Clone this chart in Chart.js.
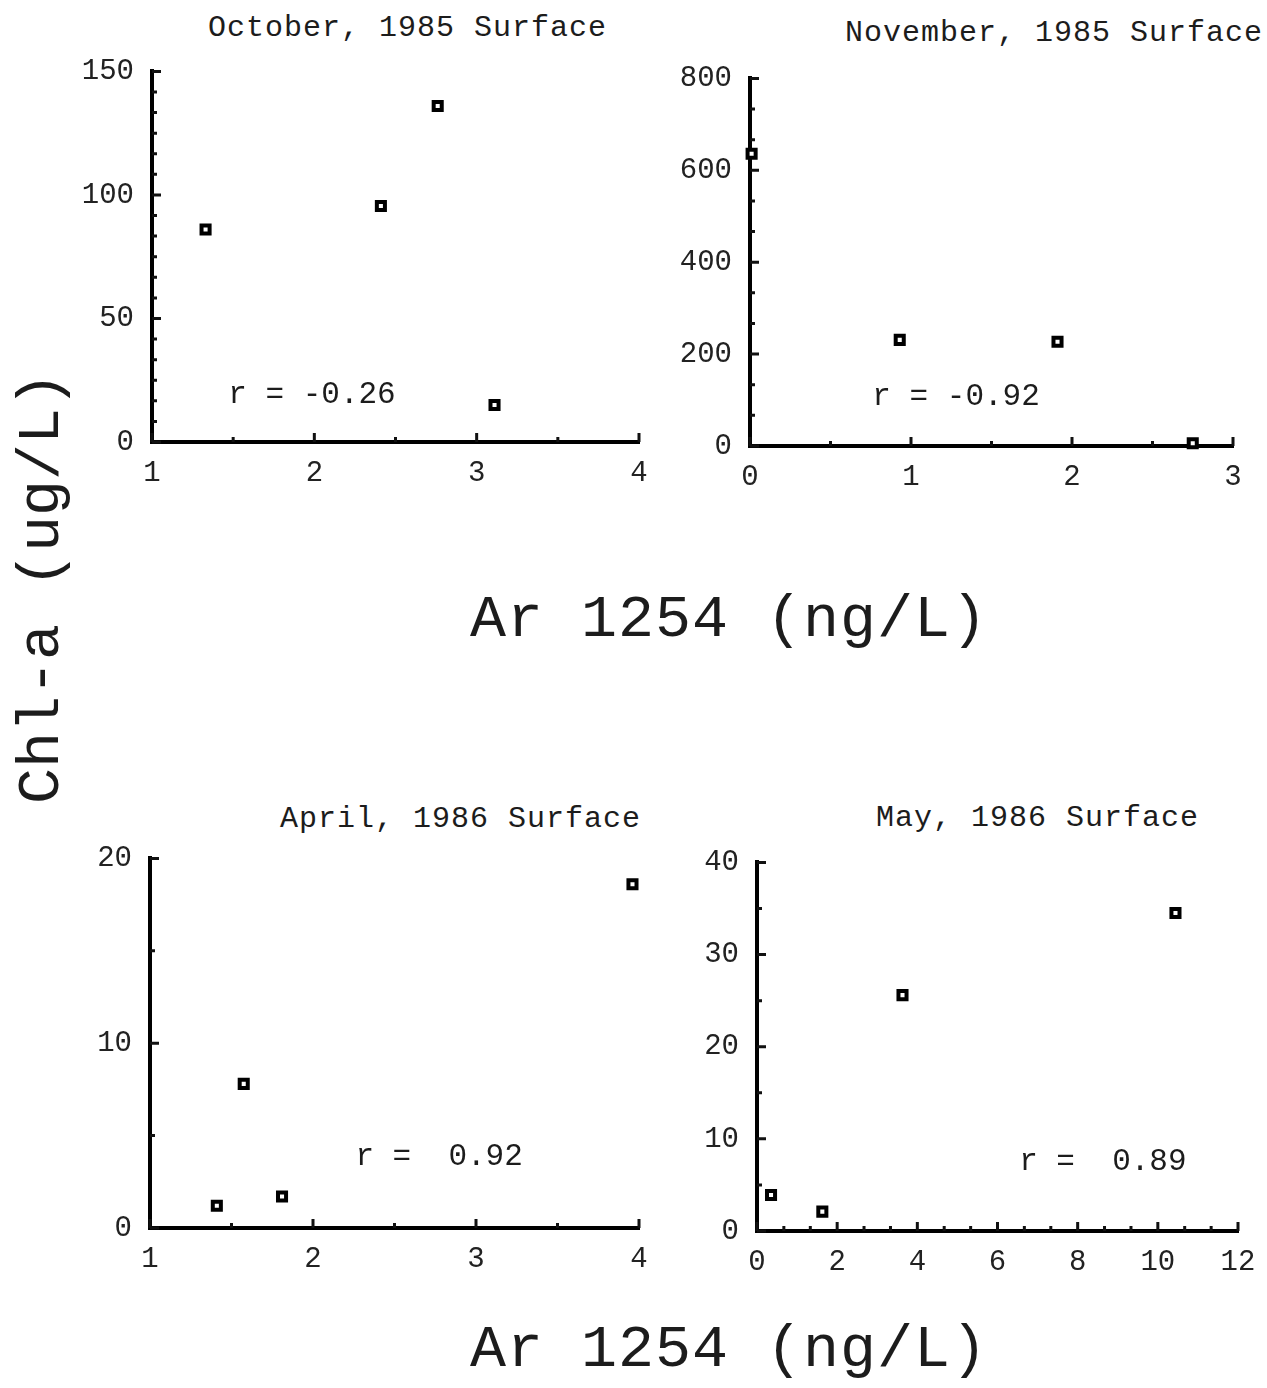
<!DOCTYPE html>
<html lang="en">
<head>
<meta charset="UTF-8">
<title>Chl-a vs Ar 1254</title>
<script src="https://cdn.jsdelivr.net/npm/chart.js"></script>
<style>
  body { margin:0; background:#fff; width:1267px; height:1388px; position:relative; overflow:hidden;
         font-family:'Liberation Mono', monospace; color:#1c1c1c; }
  .panel { position:absolute; }
  .title { position:absolute; font-size:30px; line-height:30px; letter-spacing:1px; white-space:pre; }
  .big { position:absolute; font-size:60px; line-height:60px; letter-spacing:1px; white-space:pre; }
</style>
</head>
<body>
<div class="title" style="left:208px;top:13px">October, 1985 Surface</div>
<div class="title" style="left:845px;top:18px">November, 1985 Surface</div>
<div class="title" style="left:280px;top:804px">April, 1986 Surface</div>
<div class="title" style="left:876px;top:803px">May, 1986 Surface</div>

<div class="big" style="left:470px;top:590px">Ar 1254 (ng/L)</div>
<div class="big" style="left:470px;top:1320px">Ar 1254 (ng/L)</div>
<div class="big" style="left:-188px;top:558px;width:460px;text-align:center;letter-spacing:0;transform:rotate(-90deg)">Chl-a (ug/L)</div>

<div class="panel" id="wrapOct"><canvas id="octChart"></canvas></div>
<div class="panel" id="wrapNov"><canvas id="novChart"></canvas></div>
<div class="panel" id="wrapApr"><canvas id="aprChart"></canvas></div>
<div class="panel" id="wrapMay"><canvas id="mayChart"></canvas></div>

<script>
// --- data ---
const octX = [1.33, 2.41, 2.76, 3.11];
const octY = [86, 95.5, 136, 15];
const novX = [0.01, 0.93, 1.91, 2.75];
const novY = [636, 231, 227, 6];
const aprX = [1.41, 1.575, 1.81, 3.96];
const aprY = [1.2, 7.8, 1.7, 18.6];
const mayX = [0.35, 1.63, 3.63, 10.44];
const mayY = [3.9, 2.1, 25.6, 34.5];

// tick labels (major) and small unlabeled ticks (minor)
const octXTicks = [1, 2, 3, 4];
const octXMinor = [1.5, 2.5, 3.5];
const octYTicks = [0, 50, 100, 150];
const octYMinor = [8.33, 16.67, 25, 33.33, 41.67, 58.33, 66.67, 75, 83.33, 91.67, 108.33, 116.67, 125, 133.33, 141.67];
const novXTicks = [0, 1, 2, 3];
const novXMinor = [0.5, 1.5, 2.5];
const novYTicks = [0, 200, 400, 600, 800];
const novYMinor = [66.7, 133.3, 266.7, 333.3, 466.7, 533.3, 666.7, 733.3];
const aprXTicks = [1, 2, 3, 4];
const aprXMinor = [1.5, 2.5, 3.5];
const aprYTicks = [0, 10, 20];
const aprYMinor = [5, 15];
const mayXTicks = [0, 2, 4, 6, 8, 10, 12];
const mayXMinor = [0.67, 1.33, 2.67, 3.33, 4.67, 5.33, 6.67, 7.33, 8.67, 9.33, 10.67, 11.33];
const mayYTicks = [0, 10, 20, 30, 40];
const mayYMinor = [5, 15, 25, 35];

const octR = 'r = -0.26';
const novR = 'r = -0.92';
const aprR = 'r =  0.92';
const mayR = 'r =  0.89';

Chart.defaults.font.family = "'Liberation Mono', monospace";
Chart.defaults.font.size = 29;
Chart.defaults.color = '#222';

const PAD_L = 100, PAD_T = 22, PAD_R = 34, PAD_B = 60;
const TOP_EXTRA = 12; // chart.js adds this much above the plot area

// ticks drawn inside the axes, plus the r annotation
const innerTicks = {
    id: 'innerTicks',
    afterDraw(chart, args, opts) {
        const ctx = chart.ctx;
        const xs = chart.scales.x, ys = chart.scales.y;
        const area = chart.chartArea;
        ctx.save();
        ctx.strokeStyle = '#111';
        ctx.lineWidth = 3;
        ctx.beginPath();
        opts.yMajor.forEach(v => { const p = ys.getPixelForValue(v); ctx.moveTo(area.left, p); ctx.lineTo(area.left + 9, p); });
        opts.yMinor.forEach(v => { const p = ys.getPixelForValue(v); ctx.moveTo(area.left, p); ctx.lineTo(area.left + 5, p); });
        opts.xMajor.forEach(v => { const p = xs.getPixelForValue(v); ctx.moveTo(p, area.bottom); ctx.lineTo(p, area.bottom - 9); });
        opts.xMinor.forEach(v => { const p = xs.getPixelForValue(v); ctx.moveTo(p, area.bottom); ctx.lineTo(p, area.bottom - 5); });
        ctx.stroke();
        // r value
        ctx.fillStyle = '#1c1c1c';
        ctx.font = "31px 'Liberation Mono', monospace";
        ctx.textAlign = 'left';
        ctx.textBaseline = 'middle';
        ctx.fillText(opts.note, xs.getPixelForValue(opts.noteX), ys.getPixelForValue(opts.noteY));
        ctx.restore();
    }
};

function makePanel(wrapId, canvasId, box, xs, ys, xTicks, xMinor, yTicks, yMinor, note, noteX, noteY) {
    const wrap = document.getElementById(wrapId);
    wrap.style.left = (box.L - PAD_L) + 'px';
    wrap.style.top = (box.T - PAD_T - TOP_EXTRA) + 'px';
    wrap.style.width = (box.R - box.L + PAD_L + PAD_R) + 'px';
    wrap.style.height = (box.B - box.T + PAD_T + TOP_EXTRA + PAD_B) + 'px';

    const points = xs.map((x, i) => ({ x: x, y: ys[i] }));
    new Chart(document.getElementById(canvasId), {
        type: 'scatter',
        data: {
            datasets: [{
                data: points,
                pointStyle: 'rect',
                pointRadius: 5.7,
                pointBorderWidth: 4,
                pointBorderColor: '#000',
                pointBackgroundColor: '#fff',
                clip: false
            }]
        },
        options: {
            responsive: true,
            maintainAspectRatio: false,
            animation: false,
            layout: { padding: { top: PAD_T, right: PAD_R, left: 0, bottom: 0 } },
            plugins: {
                legend: { display: false },
                tooltip: { enabled: false },
                innerTicks: { xMajor: xTicks, xMinor: xMinor, yMajor: yTicks, yMinor: yMinor, note: note, noteX: noteX, noteY: noteY }
            },
            scales: {
                x: {
                    type: 'linear',
                    min: xTicks[0],
                    max: xTicks[xTicks.length - 1],
                    afterBuildTicks: s => { s.ticks = xTicks.map(v => ({ value: v })); },
                    afterFit: s => { s.height = PAD_B; },
                    grid: { display: false, drawTicks: false },
                    border: { display: true, width: 4, color: '#000' },
                    ticks: { padding: 14, maxRotation: 0, autoSkip: false }
                },
                y: {
                    type: 'linear',
                    min: yTicks[0],
                    max: yTicks[yTicks.length - 1],
                    afterBuildTicks: s => { s.ticks = yTicks.map(v => ({ value: v })); },
                    afterFit: s => { s.width = PAD_L; },
                    grid: { display: false, drawTicks: false },
                    border: { display: true, width: 4, color: '#000' },
                    ticks: { padding: 18, autoSkip: false }
                }
            }
        },
        plugins: [innerTicks]
    });
}

makePanel('wrapOct', 'octChart', { L: 152, T: 70, R: 639, B: 442 }, octX, octY, octXTicks, octXMinor, octYTicks, octYMinor, octR, 1.47, 19);
makePanel('wrapNov', 'novChart', { L: 750, T: 77, R: 1233, B: 446 }, novX, novY, novXTicks, novXMinor, novYTicks, novYMinor, novR, 0.76, 106);
makePanel('wrapApr', 'aprChart', { L: 150, T: 857, R: 639, B: 1228 }, aprX, aprY, aprXTicks, aprXMinor, aprYTicks, aprYMinor, aprR, 2.26, 3.83);
makePanel('wrapMay', 'mayChart', { L: 757, T: 861, R: 1238, B: 1231 }, mayX, mayY, mayXTicks, mayXMinor, mayYTicks, mayYMinor, mayR, 6.54, 7.55);
</script>
</body>
</html>
